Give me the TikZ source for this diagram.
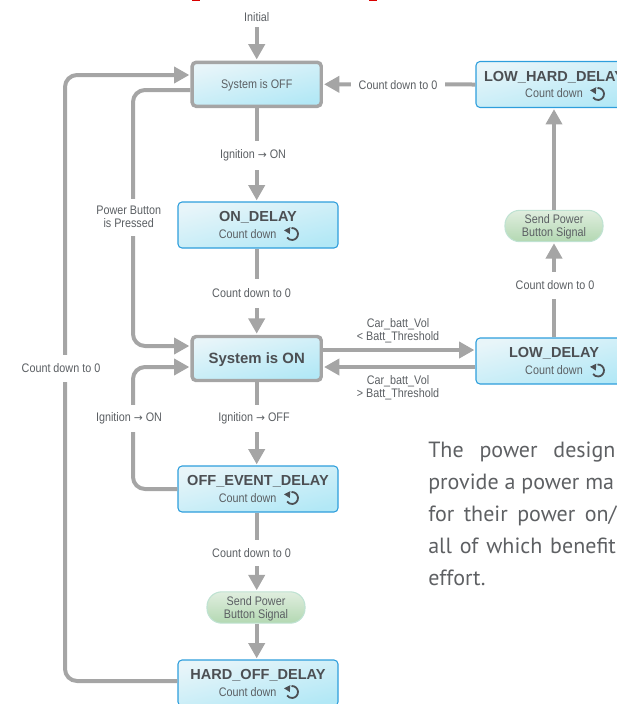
\documentclass[tikz,border=0pt]{standalone}
\usepackage{fontspec}
\usetikzlibrary{arrows.meta,calc}
\setmainfont{Liberation Sans}
\newfontfamily\condfont[FakeStretch=0.87]{Liberation Sans}
\newfontfamily\parafont{PT Sans}
\newfontfamily\arrowfont{DejaVu Sans}
\definecolor{conn}{HTML}{A5A5A5}
\definecolor{txt}{HTML}{5B5F63}
\definecolor{ttl}{HTML}{4C4F53}
\definecolor{boxblue}{HTML}{2E9EDC}
\definecolor{E9}{HTML}{E8F5F9}
\definecolor{C9}{HTML}{B2E8F6}
\definecolor{pillb}{HTML}{BFE2D2}
\definecolor{pillt}{HTML}{E0EEDF}
\definecolor{pillbot}{HTML}{B3D8B2}
\definecolor{paragray}{HTML}{5E6063}
\newcommand\smalltxt{\condfont\fontsize{9.3}{9.75}\selectfont\color{txt}}
\newcommand\ttltxt{\fontsize{10.9}{13}\selectfont\bfseries\color{ttl}}
\newcommand\cntline{\smalltxt Count down}
\newcommand\dnrule{\rule{0pt}{8.4pt}}
\newcommand\thinarrow{{\arrowfont\fontsize{8}{9.75}\selectfont →}}
\newcommand\undoicon[3]{%
  \coordinate (ic) at ([shift={(#2,#3)}]#1.center);
  \draw[line width=1.35pt,ttl] ([shift={(95:4.5pt)}]ic) arc[start angle=95,end angle=-145,radius=4.5pt];
  \fill[ttl] ([shift={(-8,-3.7)}]ic) -- ([shift={(-1.7,-6.9)}]ic) -- ([shift={(-2.2,0)}]ic) -- cycle;
}
\tikzset{
  x=0.75pt,y=-0.75pt,
  connline/.style={draw=conn,line width=3pt,rounded corners=9pt},
  arrowline/.style={connline,-{Triangle[length=11.5pt,width=12pt]},shorten >=0.8pt},
  lbl/.style={font=\smalltxt,align=center,inner sep=0pt},
  gaplbl/.style={lbl,fill=white,minimum height=#1*0.75pt,inner xsep=4.5pt},
  gaplbl/.default=29,
  delaybox/.style={draw=#1,line width=0.8pt,rounded corners=3pt,minimum height=34.5pt,
    top color=E9,bottom color=C9,shading angle=14,align=center,inner sep=0pt},
  delaybox/.default=boxblue,
  timebox/.style={delaybox,minimum width=120pt},
  sysbox/.style={delaybox=conn,line width=2.6pt,minimum width=96.8pt,minimum height=33pt},
  pill/.style={draw=pillb,line width=0.8pt,rounded corners=11pt,minimum width=73.5pt,minimum height=23.5pt,
    top color=pillt,bottom color=pillbot,align=center,inner sep=0pt,font=\smalltxt},
}
\begin{document}
\begin{tikzpicture}
\useasboundingbox (0,0) rectangle (617,704);
\clip (0,0) rectangle (617,704);
% cropped heading remnants
\fill[red!85!black] (192,-1) rectangle (200,1);
\fill[red!85!black] (369,-1) rectangle (377,1);

% rails for connector positions
\coordinate (r75) at (0,75);
\coordinate (r90) at (0,90);
\coordinate (r346) at (0,346);
\coordinate (r350) at (0,350);
\coordinate (r367) at (0,367);
\coordinate (r681) at (0,681);
\coordinate (c65) at (65,0);
\coordinate (c133) at (133,0);
\coordinate (c257) at (256.7,0);

% boxes
\node[sysbox] (sysoff) at (256.7,84.3) {\smalltxt\dnrule System is OFF};
\node[timebox] (ondelay) at (258,225) {\ttltxt ON\_DELAY\\[0.6pt]\cntline\hspace{15.5pt}};
\node[sysbox] (syson) at (256.7,358.5) {\fontsize{11.2}{13}\selectfont\bfseries\color{ttl}\rule{0pt}{9.5pt}System is ON};
\node[timebox] (offevent) at (258,489) {\ttltxt OFF\_EVENT\_DELAY\\[0.6pt]\cntline\hspace{15.5pt}};
\node[pill] (sendb) at (256,607.5) {\dnrule Send Power\\Button Signal};
\node[timebox] (hardoff) at (258,683) {\ttltxt HARD\_OFF\_DELAY\\[0.6pt]\cntline\hspace{15.5pt}};
\node[timebox,minimum width=117pt] (lowhard) at (554,84.5) {\ttltxt LOW\_HARD\_DELAY\\[0.6pt]\cntline};
\node[timebox,minimum width=117pt] (lowdelay) at (554,361) {\ttltxt LOW\_DELAY\\[0.6pt]\cntline};
\node[pill] (sendr) at (554,226) {\dnrule Send Power\\Button Signal};

\undoicon{ondelay}{34}{9}
\undoicon{offevent}{34}{9}
\undoicon{hardoff}{34}{9}
\undoicon{lowhard}{44}{9.5}
\undoicon{lowdelay}{44}{9.5}

% text-only nodes
\node[lbl] (init) at (256.7,17) {Initial};

% connectors
\draw[arrowline,shorten <=4pt] (init.south) -- (sysoff.north);
\draw[arrowline] (sysoff.south) -- (c257 |- ondelay.north);
\draw[arrowline] (c257 |- ondelay.south) -- (syson.north);
\draw[arrowline] (syson.south) -- (c257 |- offevent.north);
\draw[arrowline] (c257 |- offevent.south) -- (c257 |- sendb.north);
\draw[arrowline] (c257 |- sendb.south) -- (c257 |- hardoff.north);
\draw[arrowline] (lowhard.west) -- (sysoff.east);
\draw[arrowline] (syson.east |- r350) -- (lowdelay.west |- r350);
\draw[arrowline] (lowdelay.west |- r367) -- (syson.east |- r367);
\draw[arrowline] (lowdelay.north) -- (sendr.south);
\draw[arrowline] (sendr.north) -- (lowhard.south);
\draw[arrowline] (hardoff.west |- r681) -- (c65 |- r681) -- (c65 |- r75) -- (sysoff.west |- r75);
\draw[arrowline] (sysoff.west |- r90) -- (c133 |- r90) -- (c133 |- r346) -- (syson.west |- r346);
\draw[arrowline] (offevent.west) -- (c133 |- offevent.west) -- (c133 |- r367) -- (syson.west |- r367);

% connector labels, which break the lines they sit on
\node[gaplbl] (l1) at (253,155) {Ignition \thinarrow{} ON};
\node[gaplbl] (l2) at (251.5,293) {Count down to 0};
\node[gaplbl=27] (l3) at (254,418.5) {Ignition \thinarrow{} OFF};
\node[gaplbl=26] (l4) at (251.5,553) {Count down to 0};
\node[gaplbl,inner xsep=6pt] (l5) at (398,85) {Count down to 0};
\node[gaplbl=27] (l6) at (555,285.5) {Count down to 0};
\node[gaplbl=27] (l7) at (61,368.5) {Count down to 0};
\node[gaplbl=27] (l8) at (129,418.5) {Ignition \thinarrow{} ON};
\node[gaplbl=37] (l9) at (128.7,217) {Power Button\\is Pressed};
\node[lbl] (l10) at (398,331) {Car\_batt\_Vol\\< Batt\_Threshold};
\node[lbl] (l11) at (398,388) {Car\_batt\_Vol\\> Batt\_Threshold};

% body paragraph, justified and cropped by the picture's edge
\node[anchor=north west,align=left,inner sep=0pt,font=\parafont\fontsize{16.5}{24}\selectfont,text=paragray] (para) at (428,442)
  {The\hspace{7.5pt} power\hspace{7.5pt} design\\provide a power ma\\for\hspace{2.7pt} their\hspace{2.7pt} power\hspace{2.7pt} on/\\all\hspace{1.5pt} of\hspace{1.5pt} which\hspace{1.5pt} benefit\\effort.};
\end{tikzpicture}
\end{document}
